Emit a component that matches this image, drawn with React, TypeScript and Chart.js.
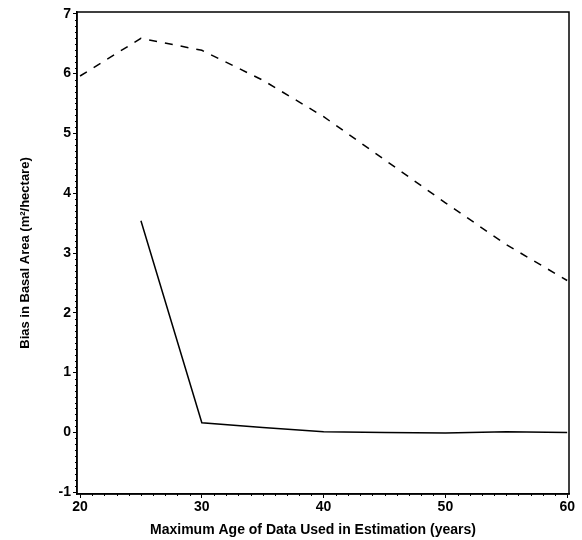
import React, { useEffect, useRef } from "react";
import { Chart, registerables } from "chart.js";

Chart.register(...registerables);

const maxAge = [20, 25, 30, 35, 40, 45, 50, 55, 60];
const dashedBias = [5.96, 6.59, 6.39, 5.89, 5.28, 4.56, 3.84, 3.14, 2.54];
const solidBias = [null, 3.54, 0.16, 0.08, 0.01, 0.0, -0.01, 0.01, 0.0];

const xMajor = [20, 30, 40, 50, 60];
const yMajor = [-1, 0, 1, 2, 3, 4, 5, 6, 7];

const X_TITLE = "Maximum Age of Data Used in Estimation (years)";
const FONT = "'Liberation Sans', Arial, sans-serif";

// Frame around the plot, small minor ticks on both axes, and the x-axis title
const framePlugin = {
  id: "frameAndMinorTicks",
  afterDraw(chart: any) {
    const { ctx, chartArea, scales } = chart;
    const { left, right, top, bottom } = chartArea;
    ctx.save();
    ctx.strokeStyle = "#000";
    ctx.lineWidth = 1.5;
    ctx.strokeRect(left, top, right - left, bottom - top);
    ctx.lineWidth = 1;
    ctx.beginPath();
    for (let v = -10; v <= 70; v++) {
      if (v % 10 === 0) continue;
      const y = scales.y.getPixelForValue(v / 10);
      if (y < top - 0.5 || y > bottom + 0.5) continue;
      ctx.moveTo(left - 2, Math.round(y) + 0.5);
      ctx.lineTo(left, Math.round(y) + 0.5);
    }
    for (let v = 20; v <= 60; v++) {
      if (v % 10 === 0) continue;
      const x = scales.x.getPixelForValue(v);
      ctx.moveTo(Math.round(x) + 0.5, bottom);
      ctx.lineTo(Math.round(x) + 0.5, bottom + 2);
    }
    ctx.stroke();

    ctx.fillStyle = "#000";
    ctx.font = `bold 14px ${FONT}`;
    ctx.textAlign = "center";
    ctx.textBaseline = "middle";
    ctx.fillText(X_TITLE, (left + right) / 2 - 10, bottom + 36);
    ctx.restore();
  },
};

export default function App() {
  const ref = useRef<HTMLCanvasElement>(null);

  useEffect(() => {
    document.body.style.margin = "0";
    const chart = new Chart(ref.current!, {
      type: "line",
      data: {
        labels: maxAge,
        datasets: [
          {
            data: maxAge.map((x, i) => ({ x, y: dashedBias[i] })),
            borderColor: "#000",
            borderWidth: 1.5,
            borderDash: [8, 8],
            pointRadius: 0,
            fill: false,
            tension: 0,
          },
          {
            data: maxAge
              .map((x, i) => ({ x, y: solidBias[i] }))
              .filter((p) => p.y !== null) as any,
            borderColor: "#000",
            borderWidth: 1.5,
            pointRadius: 0,
            fill: false,
            tension: 0,
          },
        ],
      },
      options: {
        animation: false,
        responsive: false,
        layout: { padding: { left: 0, right: 13, top: 12, bottom: 0 } },
        plugins: { legend: { display: false }, tooltip: { enabled: false } },
        scales: {
          x: {
            type: "linear",
            min: 19.75,
            max: 60.15,
            afterBuildTicks: (s: any) => {
              s.ticks = xMajor.map((v) => ({ value: v }));
            },
            afterFit: (s: any) => {
              s.height = 46;
            },
            border: { display: true, color: "#000", width: 1.5 },
            grid: { drawOnChartArea: false, tickLength: 4, color: "#000", tickColor: "#000" },
            ticks: {
              color: "#000",
              padding: 1,
              maxRotation: 0,
              font: { family: FONT, size: 14, weight: "bold" },
            },
            title: { display: false, text: X_TITLE },
          },
          y: {
            type: "linear",
            min: -1.03,
            max: 7.03,
            afterBuildTicks: (s: any) => {
              s.ticks = yMajor.map((v) => ({ value: v }));
            },
            afterFit: (s: any) => {
              s.width = 77;
            },
            border: { display: true, color: "#000", width: 1.5 },
            grid: { drawOnChartArea: false, tickLength: 4, color: "#000", tickColor: "#000" },
            ticks: {
              color: "#000",
              padding: 2,
              font: { family: FONT, size: 14, weight: "bold" },
            },
            title: {
              display: true,
              text: "Bias in Basal Area (m²/hectare)",
              color: "#000",
              padding: { top: 18, bottom: 0 },
              font: { family: FONT, size: 13, weight: "bold" },
            },
          },
        },
      },
      plugins: [framePlugin],
    });
    return () => chart.destroy();
  }, []);

  return (
    <div style={{ position: "relative", width: 582, height: 540, background: "#fff" }}>
      <canvas ref={ref} width={582} height={540} />
    </div>
  );
}
